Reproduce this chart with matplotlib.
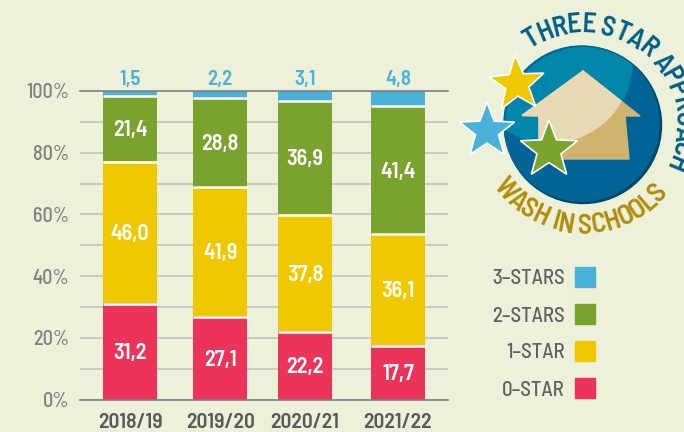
import logging
import numpy as np
import matplotlib
matplotlib.use('Agg')
import matplotlib.pyplot as plt
from matplotlib.patches import Circle, Polygon, Rectangle
from matplotlib.textpath import TextPath
from matplotlib.font_manager import FontProperties

logging.getLogger('matplotlib.font_manager').setLevel(logging.ERROR)

years = ['2018/19', '2019/20', '2020/21', '2021/22']
zero_star = [31.2, 27.1, 22.2, 17.7]
one_star = [46.0, 41.9, 37.8, 36.1]
two_stars = [21.4, 28.8, 36.9, 41.4]
three_stars = [1.5, 2.2, 3.1, 4.8]
legend_labels = ['3-STARS', '2-STARS', '1-STAR', '0-STAR']
y_ticks = [0, 20, 40, 60, 80, 100]

BG = '#eef1d9'
BLUE = '#4ab2d9'
GREEN = '#7aa32e'
YELLOW = '#f0c800'
RED = '#ec345b'
FONT = ['Barlow Semi Condensed', 'Roboto', 'DejaVu Sans']
W, H = 684, 432


def star(cx, cy, r, rot=0.0):
    # five pointed star in pixel coords, y going down
    ang = np.radians(-90 + rot + 36 * np.arange(10))
    rad = np.where(np.arange(10) % 2 == 0, r, r * 0.42)
    return np.column_stack([cx + rad * np.cos(ang), cy + rad * np.sin(ang)])


def arc_text(ax, s, cx, cy, r, a0, a1, color, size, bottom=False):
    # one text per letter, spread between angles a0 and a1 (degrees, y up)
    fp = FontProperties(family=FONT, weight='semibold')
    ends = [TextPath((0, 0), s[:i + 1] + '|', size=size, prop=fp).get_extents().x1 for i in range(len(s))]
    bar = TextPath((0, 0), '|', size=size, prop=fp).get_extents().x1
    ends = np.array(ends) - bar
    starts = np.concatenate([[0], ends[:-1]])
    mids = (starts + ends) / 2 / ends[-1]
    for ch, m in zip(s, mids):
        a = np.radians(a0 + (a1 - a0) * m)
        rot = np.degrees(a) + 90 if bottom else np.degrees(a) - 90
        ax.text(cx + r * np.cos(a), cy - r * np.sin(a), ch, color=color, fontsize=size,
                family=FONT, weight='semibold', rotation=rot, rotation_mode='anchor',
                ha='center', va='center', clip_on=True)


fig = plt.figure(figsize=(W / 100, H / 100), dpi=100, facecolor=BG)

# overlay in pixel coords for the logo and the legend
over = fig.add_axes([0, 0, 1, 1])
over.set_xlim(0, W)
over.set_ylim(H, 0)
over.axis('off')

cx, cy = 583, 125
over.add_patch(Circle((cx, cy), 78.5, color='#00486b', zorder=1))
over.add_patch(Circle((cx - 1.5, cy - 1.5), 77.5, color='#006596', zorder=2))
disc = Circle((cx, cy), 78, transform=over.transData)
light = Circle((551, 62), 81, color='#0085ab', zorder=3)
over.add_patch(light)
light.set_clip_path(disc)
house = [(583, 71), (640, 116), (625, 116), (629, 159), (539, 159), (539, 116), (522, 115.5)]
over.add_patch(Polygon(house, closed=True, color='#cfb36e', zorder=4))
house_light = Polygon(house, closed=True, color='#e8d9b5', zorder=5)
over.add_patch(house_light)
house_light.set_clip_path(Circle((551, 62), 81, transform=over.transData))
for sx, sy, sr, sc, srot in [(517, 84, 29, YELLOW, -4), (487, 131, 29, BLUE, 0), (549, 150, 30, GREEN, 0)]:
    over.add_patch(Polygon(star(sx, sy, sr, srot), closed=True, fc=sc, ec='white', lw=1.2, zorder=6))

arc_text(over, 'THREE STAR APPROACH', cx, cy, 100, 125, -27, '#005f8a', 20)
arc_text(over, 'WASH IN SCHOOLS', cx, cy, 101, 214, 322, '#b08d0a', 20, bottom=True)

legend_colors = [BLUE, GREEN, YELLOW, RED]
for lab, col, ly in zip(legend_labels, legend_colors, [277, 314, 351, 388]):
    over.add_patch(Rectangle((575, ly - 10), 20, 20, color=col))
    over.text(565, ly, lab.replace('-', '\u2013'), ha='right', va='center_baseline', color='#606060',
              fontsize=15, family=FONT, weight='medium')

# stacked bars
ax = fig.add_axes([80 / W, (H - 399.5) / H, 368 / W, 308.5 / H])
ax.patch.set_alpha(0)
x = np.array([0, 1.01, 1.96, 3.0])
bottom = np.zeros(4)
for vals, col in zip([zero_star, one_star, two_stars, three_stars], [RED, YELLOW, GREEN, BLUE]):
    vals = np.array(vals)
    ax.bar(x, vals, 0.6, bottom=bottom, color=col, zorder=3)
    bottom = bottom + vals
    if col != BLUE:
        # white gap sits just under the top of each segment
        ax.hlines(bottom - 0.2, x - 0.3, x + 0.3, color='white', lw=1.8, zorder=4)
    if col == BLUE:
        for xi, v in zip(x, vals):
            ax.text(xi, 104.5, f'{v:.1f}'.replace('.', ','), ha='center', va='center_baseline', color=BLUE,
                    fontsize=15, family=FONT, weight='semibold')
    else:
        for xi, b, v in zip(x, bottom - vals, vals):
            ax.text(xi, b + v / 2, f'{v:.1f}'.replace('.', ','), ha='center', va='center_baseline', color='white',
                    fontsize=16, family=FONT, weight='semibold', zorder=5)

ax.set_xlim((80 - 130) / 89.3, (448 - 130) / 89.3)
ax.set_ylim(0, 100)
ax.set_yticks(y_ticks)
ax.set_yticklabels([f'{t}%' for t in y_ticks], color='#808080', fontsize=14.5, family=FONT, weight='medium',
                   va='center_baseline')
ax.set_yticks(range(10, 100, 20), minor=True)
ax.set_xticks(x)
ax.set_xticklabels(years, color='#5a5a5a', fontsize=15.5, family=FONT, weight='semibold')
ax.tick_params(axis='both', which='both', length=0)
ax.tick_params(axis='y', pad=8)
ax.tick_params(axis='x', pad=10)
ax.grid(True, axis='y', which='both', color='#c9c9c5', lw=1.4, zorder=0)
ax.set_axisbelow(True)
for side in ['left', 'right']:
    ax.spines[side].set_visible(False)
for side in ['top', 'bottom']:
    ax.spines[side].set_color('#808080')
    ax.spines[side].set_linewidth(1.2)
    ax.spines[side].set_zorder(6)

plt.savefig('out.png', dpi=100, facecolor=BG)
